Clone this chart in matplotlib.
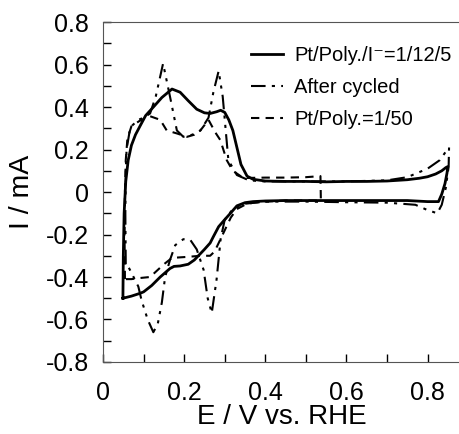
import matplotlib
matplotlib.use("Agg")
import matplotlib.pyplot as plt
from matplotlib.ticker import MultipleLocator, FuncFormatter

plt.rcParams['font.family'] = ['Liberation Sans', 'DejaVu Sans']

# cyclic voltammograms (E in V vs RHE, I in mA)
# Pt/Poly./I- = 1/12/5
e_solid = [0.049, 0.050, 0.052, 0.056, 0.062, 0.070, 0.080, 0.091, 0.105, 0.124,
           0.145, 0.170, 0.190, 0.210, 0.231, 0.250, 0.264, 0.280, 0.290, 0.300,
           0.310, 0.320, 0.330, 0.340, 0.355, 0.370, 0.400, 0.450, 0.500, 0.550,
           0.600, 0.650, 0.700, 0.750, 0.780, 0.800, 0.820, 0.835, 0.845, 0.850,
           0.848, 0.843, 0.835, 0.827, 0.800, 0.750, 0.700, 0.600, 0.500, 0.450,
           0.400, 0.370, 0.350, 0.330, 0.314, 0.300, 0.285, 0.272, 0.264, 0.250,
           0.240, 0.225, 0.210, 0.190, 0.175, 0.165, 0.150, 0.141, 0.120, 0.100,
           0.091, 0.070, 0.049]
i_solid = [-0.50, -0.30, -0.10, 0.05, 0.15, 0.22, 0.27, 0.31, 0.36, 0.40,
           0.445, 0.485, 0.47, 0.43, 0.39, 0.373, 0.37, 0.378, 0.385, 0.375,
           0.34, 0.29, 0.21, 0.13, 0.075, 0.06, 0.052, 0.05, 0.05, 0.048,
           0.05, 0.05, 0.052, 0.058, 0.065, 0.072, 0.085, 0.10, 0.115, 0.12,
           0.09, 0.04, -0.01, -0.045, -0.045, -0.04, -0.04, -0.04, -0.04, -0.04,
           -0.042, -0.045, -0.05, -0.065, -0.10, -0.13, -0.163, -0.21, -0.24, -0.27,
           -0.29, -0.32, -0.34, -0.348, -0.35, -0.36, -0.385, -0.40, -0.44, -0.47,
           -0.477, -0.49, -0.50]

# After cycled
e_cyc = [0.056, 0.055, 0.056, 0.058, 0.065, 0.070, 0.087, 0.100, 0.116, 0.130,
         0.148, 0.165, 0.182, 0.198, 0.220, 0.240, 0.260, 0.272, 0.285, 0.295,
         0.309, 0.330, 0.360, 0.400, 0.500, 0.600, 0.700, 0.750, 0.800, 0.830,
         0.845, 0.853, 0.852, 0.845, 0.835, 0.824, 0.800, 0.770, 0.700, 0.600,
         0.500, 0.400, 0.350, 0.320, 0.300, 0.290, 0.280, 0.268, 0.258, 0.248,
         0.231, 0.215, 0.198, 0.178, 0.165, 0.153, 0.145, 0.135, 0.124, 0.110,
         0.095, 0.087, 0.070, 0.058]
i_cyc = [-0.34, -0.10, 0.10, 0.20, 0.28, 0.31, 0.34, 0.35, 0.37, 0.45,
         0.605, 0.45, 0.29, 0.26, 0.27, 0.29, 0.35, 0.47, 0.57, 0.45,
         0.15, 0.08, 0.055, 0.05, 0.05, 0.05, 0.055, 0.07, 0.11, 0.15,
         0.19, 0.21, 0.12, 0.02, -0.06, -0.10, -0.085, -0.06, -0.05, -0.048,
         -0.045, -0.045, -0.055, -0.08, -0.13, -0.22, -0.41, -0.57, -0.50, -0.367,
         -0.27, -0.225, -0.222, -0.25, -0.32, -0.40, -0.52, -0.62, -0.66, -0.60,
         -0.51, -0.445, -0.38, -0.336]

# Pt/Poly. = 1/50
e_dash = [0.054, 0.053, 0.054, 0.056, 0.060, 0.070, 0.090, 0.116, 0.141, 0.157,
          0.182, 0.207, 0.225, 0.240, 0.260, 0.277, 0.289, 0.305, 0.320, 0.346,
          0.400, 0.450, 0.500, 0.536, 0.537, 0.500, 0.450, 0.400, 0.370, 0.350,
          0.330, 0.315, 0.300, 0.285, 0.275, 0.264, 0.240, 0.210, 0.170, 0.150,
          0.116, 0.090, 0.070, 0.054]
i_dash = [-0.41, -0.20, 0.00, 0.15, 0.25, 0.31, 0.335, 0.357, 0.34, 0.29,
          0.276, 0.26, 0.27, 0.29, 0.34, 0.28, 0.245, 0.15, 0.10, 0.066,
          0.068, 0.068, 0.07, 0.075, -0.04, -0.04, -0.04, -0.045, -0.05, -0.06,
          -0.08, -0.12, -0.18, -0.24, -0.28, -0.30, -0.30, -0.305, -0.31, -0.34,
          -0.40, -0.405, -0.41, -0.41]

labels = ['Pt/Poly./I\u207b=1/12/5', 'After cycled', 'Pt/Poly.=1/50']

fig = plt.figure(figsize=(4.6, 4.34), dpi=100)
ax = fig.add_axes([0.224, 0.166, 0.776, 0.783])

ax.plot(e_solid, i_solid, color='black', lw=2.0, label=labels[0])
ax.plot(e_cyc, i_cyc, color='black', lw=1.5,
        linestyle=(0, (7, 3, 1.5, 3, 1.5, 3)), label=labels[1])
ax.plot(e_dash, i_dash, color='black', lw=1.5,
        linestyle=(0, (4, 3)), label=labels[2])

ax.set_xlim(0, 0.88)
ax.set_ylim(-0.8, 0.8)
ax.xaxis.set_major_locator(MultipleLocator(0.2))
ax.xaxis.set_minor_locator(MultipleLocator(0.1))
ax.yaxis.set_major_locator(MultipleLocator(0.2))
ax.yaxis.set_minor_locator(MultipleLocator(0.1))
fmt = FuncFormatter(lambda v, p: '0' if abs(v) < 1e-9 else '%.1f' % v)
ax.xaxis.set_major_formatter(fmt)
ax.yaxis.set_major_formatter(fmt)
ax.tick_params(which='both', direction='in', length=6, width=1, labelsize=18)
ax.tick_params(axis='x', pad=14)
ax.tick_params(axis='y', pad=10)

ax.spines['right'].set_visible(False)
for s in ['left', 'bottom', 'top']:
    ax.spines[s].set_color('#555555')

ax.set_xlabel('E / V vs. RHE', fontsize=20, labelpad=-1)
ax.set_ylabel('I / mA', fontsize=20.5, labelpad=8)

ax.legend(loc='upper left', bbox_to_anchor=(0.415, 0.93), frameon=False,
          fontsize=14.5, handlelength=1.6, handletextpad=0.55,
          labelspacing=0.65, borderpad=0, borderaxespad=0)

fig.savefig('out.png', dpi=100)
